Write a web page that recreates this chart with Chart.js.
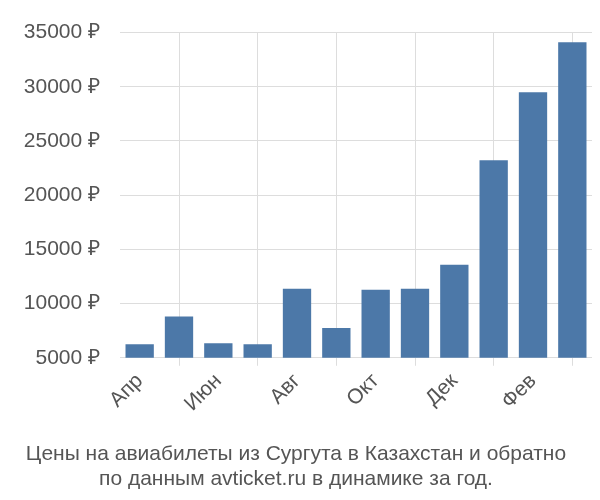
<!DOCTYPE html>
<html><head><meta charset="utf-8">
<script src="https://cdn.jsdelivr.net/npm/chart.js@4"></script>
<style>body{margin:0;background:#fff}#w{width:600px;height:500px}</style>
</head><body><div id="w"><canvas id="c"></canvas></div>
<script>
const categories=["Апр","Май","Июн","Июл","Авг","Сен","Окт","Ноя","Дек","Янв","Фев","Мар"];
const prices=[6240,8800,6330,6240,11370,7740,11280,11370,13580,23230,29500,34100];
const titleLines=["Цены на авиабилеты из Сургута в Казахстан и обратно","по данным avticket.ru в динамике за год."];
new Chart(document.getElementById('c'),{
type:'bar',
data:{labels:categories,datasets:[{data:prices,backgroundColor:'#4c78a8',barPercentage:0.72,categoryPercentage:1}]},
options:{responsive:true,maintainAspectRatio:false,animation:false,
layout:{padding:{right:8,top:5,left:0}},
plugins:{legend:{display:false},tooltip:{enabled:false},
title:{display:true,position:'bottom',text:titleLines,color:'#555',font:{family:'Liberation Sans',size:21,weight:'normal'},padding:{top:22,bottom:8}}},
scales:{
y:{min:5000,max:35000,afterFit:s=>{s.width=120;},ticks:{stepSize:5000,color:'#555',padding:20,font:{family:'Liberation Sans',size:21},callback:v=>v+' ₽'},grid:{color:'#ddd',drawTicks:false},border:{display:false}},
x:{ticks:{color:'#555',font:{family:'Liberation Sans',size:21},maxRotation:45,minRotation:45},grid:{color:'#ddd',offset:true},border:{display:false}}
}}});
</script></body></html>
